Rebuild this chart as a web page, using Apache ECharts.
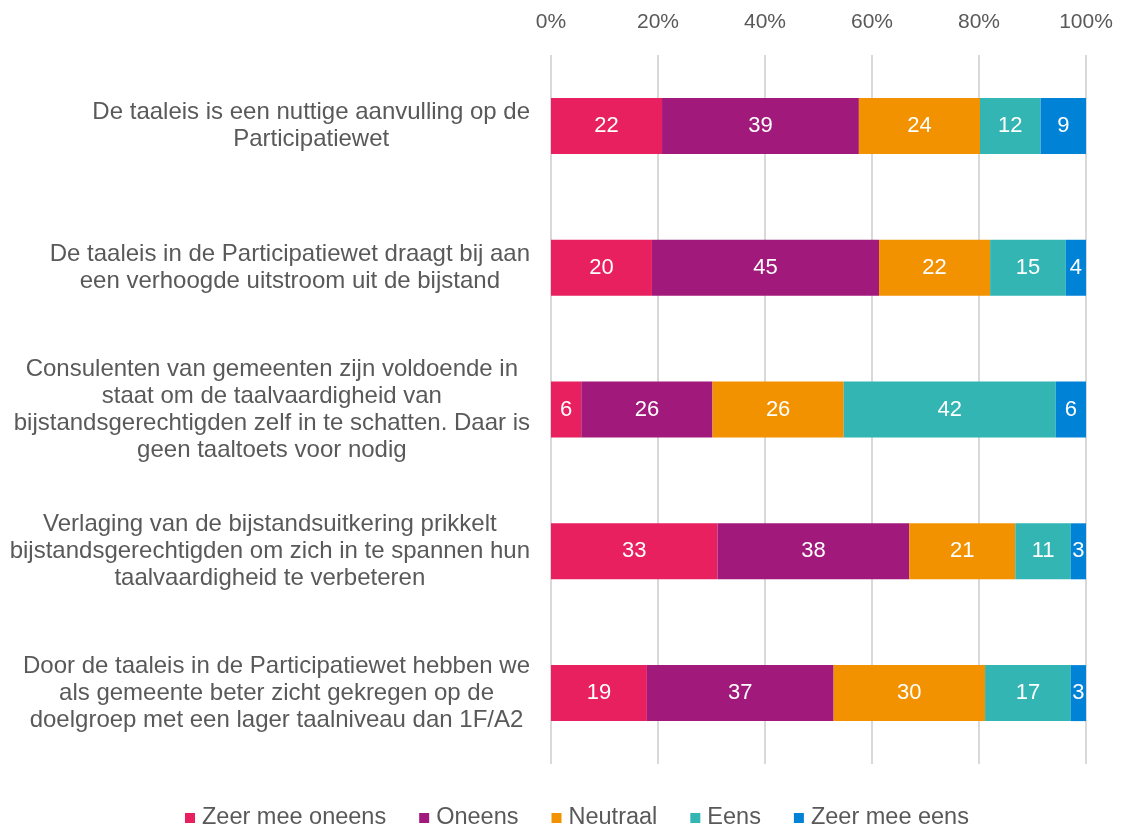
<!DOCTYPE html>
<html>
<head>
<meta charset="utf-8">
<script src="https://cdn.jsdelivr.net/npm/echarts@6/dist/echarts.min.js"></script>
<style>
  html, body { margin: 0; padding: 0; background: #fff; }
  #chart { width: 1126px; height: 828px; }
</style>
</head>
<body>
<div id="chart"></div>
<script>
// stellingen (van boven naar beneden)
let statements = [
    'De taaleis is een nuttige aanvulling op de\nParticipatiewet',
    'De taaleis in de Participatiewet draagt bij aan\neen verhoogde uitstroom uit de bijstand',
    'Consulenten van gemeenten zijn voldoende in\nstaat om de taalvaardigheid van\nbijstandsgerechtigden zelf in te schatten. Daar is\ngeen taaltoets voor nodig',
    'Verlaging van de bijstandsuitkering prikkelt\nbijstandsgerechtigden om zich in te spannen hun\ntaalvaardigheid te verbeteren',
    'Door de taaleis in de Participatiewet hebben we\nals gemeente beter zicht gekregen op de\ndoelgroep met een lager taalniveau dan 1F/A2'
];

let answers = ['Zeer mee oneens', 'Oneens', 'Neutraal', 'Eens', 'Zeer mee eens'];
let colors = ['#E8205F', '#A11A7B', '#F39200', '#33B5B3', '#0082D7'];

let zeerOneens = [22, 20, 6, 33, 19];
let oneens = [39, 45, 26, 38, 37];
let neutraal = [24, 22, 26, 21, 30];
let eens = [12, 15, 42, 11, 17];
let zeerEens = [9, 4, 6, 3, 3];

let tickLabels = ['0%', '20%', '40%', '60%', '80%', '100%'];

let allSeries = [zeerOneens, oneens, neutraal, eens, zeerEens];
// elke rij telt op tot 100% van de balk
let totals = statements.map((s, i) => allSeries.reduce((sum, arr) => sum + arr[i], 0));

let txt = '#595959';
let font = '"Liberation Sans", Arial, sans-serif';

let option = {
    animation: false,
    textStyle: { fontFamily: font },
    grid: { left: 551, right: 40, top: 55, bottom: 64 },
    legend: {
        top: 801,
        left: 180,
        itemWidth: 10,
        itemHeight: 10,
        itemGap: 33,
        icon: 'rect',
        textStyle: { fontSize: 23.5, color: txt, fontFamily: font, padding: [0, 0, 0, 2] },
        data: answers
    },
    xAxis: {
        type: 'value',
        position: 'top',
        min: 0,
        max: 100,
        interval: 20,
        axisLine: { show: false },
        axisTick: { show: false },
        axisLabel: {
            fontSize: 21, color: txt, margin: 22, fontFamily: font,
            formatter: (v) => tickLabels[Math.round(v / 20)]
        },
        splitLine: { lineStyle: { color: '#D9D9D9', width: 2 } }
    },
    yAxis: {
        type: 'category',
        inverse: true,
        data: statements,
        axisLine: { show: false },
        axisTick: { show: false },
        axisLabel: {
            align: 'right',
            margin: 21,
            formatter: (v) => '{c|' + v + '}',
            rich: {
                c: { align: 'center', fontSize: 24, lineHeight: 27, color: txt, fontFamily: font }
            }
        }
    },
    series: allSeries.map((arr, k) => ({
        name: answers[k],
        type: 'bar',
        stack: 'total',
        barWidth: 56,
        itemStyle: { color: colors[k] },
        label: {
            show: true,
            position: 'inside',
            color: '#fff',
            fontSize: 22,
            fontFamily: font,
            formatter: (p) => arr[p.dataIndex]
        },
        data: arr.map((v, i) => v / totals[i] * 100)
    }))
};

let chartDom = document.getElementById('chart');
let myChart = echarts.init(chartDom);
myChart.setOption(option);
</script>
</body>
</html>
